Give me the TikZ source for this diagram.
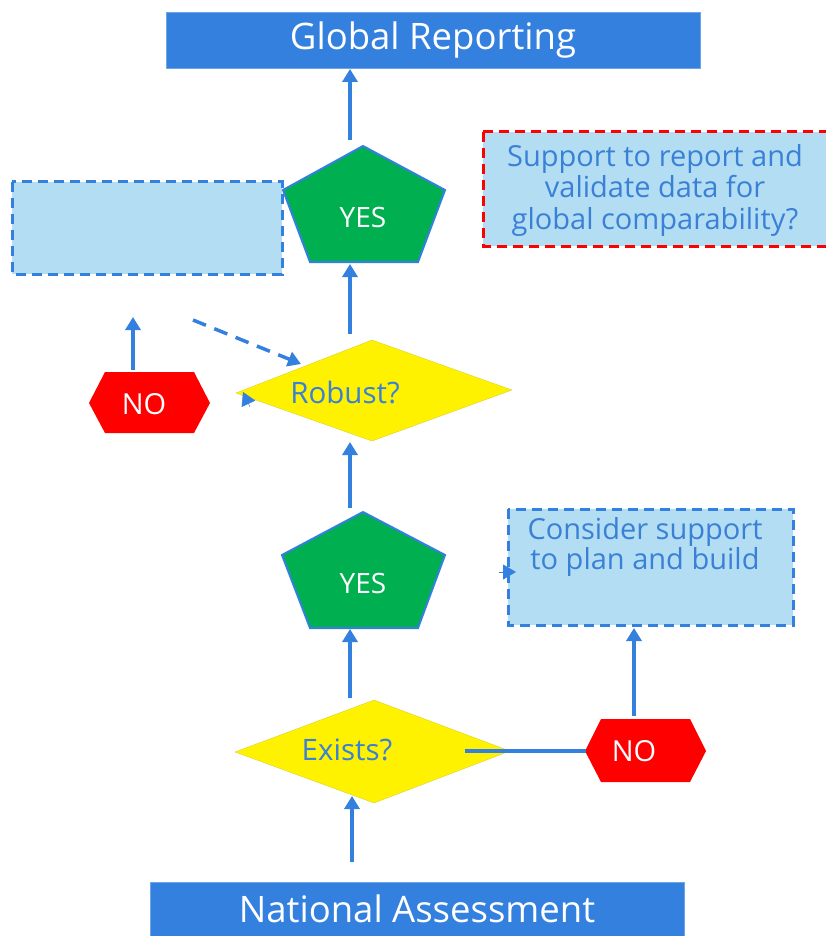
\documentclass[tikz,border=0pt]{standalone}
\usepackage{fontspec}
\setmainfont{Open Sans}
\usetikzlibrary{arrows.meta}
\definecolor{bbar}{HTML}{3380DE}
\definecolor{lblue}{HTML}{B3DDF2}
\definecolor{tblue}{HTML}{3A80D6}
\definecolor{ygreen}{HTML}{00AF50}
\tikzset{
  arr/.style={draw=bbar,line width=3.5pt,-{Triangle[width=15pt,length=13pt]}},
  plain/.style={draw=bbar,line width=3.5pt},
  bar/.style={fill=bbar,draw=bbar!70!white,line width=0.6pt},
  lbox/.style={fill=lblue,draw=bbar,line width=3pt,dash pattern=on 10pt off 6pt},
  pent/.style={fill=ygreen,draw=bbar,line width=2pt,line join=miter},
  dia/.style={fill=yellow,draw=yellow!80!black,line width=0.3pt},
  hexa/.style={fill=red,draw=none},
  wtxt/.style={text=white,inner sep=0pt,align=center},
  btxt/.style={text=tblue,inner sep=0pt,align=center}
}
\begin{document}
\begin{tikzpicture}[x=1pt,y=-1pt]
\useasboundingbox (0,0) rectangle (826,936);
% bars
\path[bar] (166,12) rectangle (700,68);
\node[wtxt,font=\fontsize{36.5}{40}\selectfont] (glob) at (433,40) {Global Reporting};
\path[bar] (150,882) rectangle (684,938);
\node[wtxt,font=\fontsize{36.5}{40}\selectfont] (nat) at (417,909) {National Assessment};
% pentagons
\path[pent] (363,146) -- (445,190) -- (418,262) -- (310,262) -- (283,190) -- cycle;
\node[wtxt,font=\fontsize{28}{30}\selectfont] (yes1) at (363,217) {YES};
\path[pent] (363,512) -- (445,555) -- (418,628) -- (310,628) -- (282,555) -- cycle;
\node[wtxt,font=\fontsize{28}{30}\selectfont] (yes2) at (363,583) {YES};
% diamonds
\path[dia] (236,393) -- (372,340) -- (512,390) -- (372,441) -- cycle;
\node[btxt,font=\fontsize{29.5}{32}\selectfont] (rob) at (345,392) {Robust?};
\path[dia] (235,752) -- (374,700) -- (510,751) -- (374,803) -- cycle;
\node[btxt,font=\fontsize{29.5}{32}\selectfont] (ex) at (347,750) {Exists?};
% hexagons
\path[hexa] (89,403) -- (105,372) -- (194,372) -- (210,403) -- (194,433) -- (105,433) -- cycle;
\node[wtxt,font=\fontsize{29}{32}\selectfont] (no1) at (144,404) {NO};
\path[hexa] (585,751) -- (601,719) -- (690,719) -- (706,751) -- (690,782) -- (601,782) -- cycle;
\node[wtxt,font=\fontsize{29}{32}\selectfont] (no2) at (634,751) {NO};
% boxes
\path[lbox] (12,182) rectangle (282,274);
\path[lbox] (508,509) rectangle (793,625);
\node[btxt,font=\fontsize{29}{30}\selectfont] (cons) at (645,547) {Consider support\\to plan and build};
\path[lbox,draw=red] (483,132) rectangle (830,246);
\node[btxt,font=\fontsize{29}{31.5}\selectfont] (supp) at (655,190) {Support to report and\\validate data for\\global comparability?};
% connector coordinates
\coordinate (a1) at (350,140); \coordinate (a1e) at (350,69);
\coordinate (a2) at (350,334); \coordinate (a2e) at (350,264);
\coordinate (a3) at (350,508); \coordinate (a3e) at (350,442);
\coordinate (a4) at (350,698); \coordinate (a4e) at (350,629);
\coordinate (a5) at (352,862); \coordinate (a5e) at (352,796);
\coordinate (l1) at (465,751); \coordinate (l1e) at (586,751);
\coordinate (a6) at (634,716); \coordinate (a6e) at (634,628);
\coordinate (a7) at (499,572); \coordinate (a7e) at (516,572);
\coordinate (a8) at (133,370); \coordinate (a8e) at (133,317);
\coordinate (a9) at (193,320); \coordinate (a9e) at (301,364);
\coordinate (a10) at (250,407); \coordinate (a10e) at (243,392);
% connectors
\draw[arr] (a1) -- (a1e);
\draw[arr] (a2) -- (a2e);
\draw[arr] (a3) -- (a3e);
\draw[arr] (a4) -- (a4e);
\draw[arr] (a5) -- (a5e);
\draw[plain] (l1) -- (l1e);
\draw[arr] (a6) -- (a6e);
\draw[arr,line width=1pt] (a7) -- (a7e);
\draw[arr] (a8) -- (a8e);
\draw[arr,dash pattern=on 14pt off 9pt] (a9) -- (a9e);
\draw[arr,line width=0.5pt] (a10) -- (a10e);
\end{tikzpicture}
\end{document}
